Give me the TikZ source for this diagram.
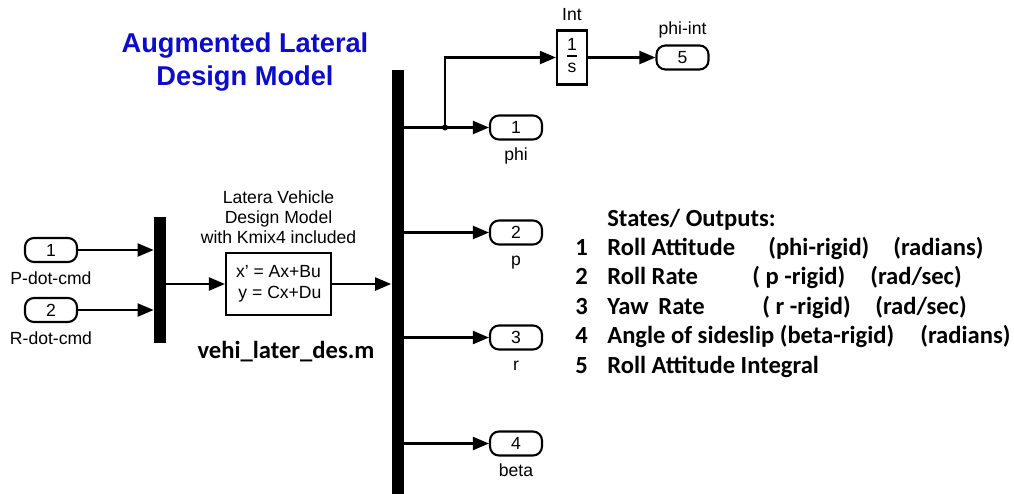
\documentclass[tikz,border=0pt]{standalone}
\usepackage{fontspec}
\setmainfont{Liberation Sans}
\newfontfamily\calfont{Carlito}
\usetikzlibrary{positioning,arrows.meta}
\definecolor{titleblue}{RGB}{12,12,205}
\tikzset{
  sigline/.style={-{Triangle[length=3.2mm, width=2.6mm]}, line width=1.2pt},
  portbox/.style={draw, line width=1.2pt, rounded corners=0.18cm, minimum width=1.04cm, minimum height=0.48cm, inner sep=0pt, font=\fontsize{10}{12}\selectfont},
  muxbar/.style={fill=black, draw=none, minimum width=0.24cm, inner sep=0pt},
  blockbox/.style={draw, line width=1.2pt, inner sep=0pt, align=center, font=\fontsize{10}{12}\selectfont},
  portlabel/.style={font=\fontsize{10}{12}\selectfont, inner sep=0pt, text height=7.3pt, text depth=2.1pt},
  listtext/.style={font=\calfont\bfseries\fontsize{14}{17}\selectfont, inner sep=0pt, anchor=base west}
}

\begin{document}
\begin{tikzpicture}
  \useasboundingbox (0,0) rectangle (20.28,-9.86);
  % title
  \node[font=\bfseries\fontsize{15.5}{18.7}\selectfont, text=titleblue, align=center, inner sep=0pt] (title) at (4.9,-1.24) {Augmented Lateral\\ Design Model};
  % inputs and mux
  \node[portbox] (in1) at (1.02,-5.00) {1};
  \node[portbox] (in2) at (1.02,-6.20) {2};
  \node[portlabel, below=0.16cm of in1] (in1lbl) {P-dot-cmd};
  \node[portlabel, below=0.16cm of in2] (in2lbl) {R-dot-cmd};
  \node[muxbar, minimum height=2.52cm] (mux) at (3.20,-5.60) {};
  \draw[sigline] (in1.east) -- (in1.east -| mux.west);
  \draw[sigline] (in2.east) -- (in2.east -| mux.west);
  % state space model
  \node[blockbox, minimum width=2.1cm, minimum height=1.24cm] (ss) at (5.57,-5.68) {x' = Ax+Bu\\ \,y = Cx+Du};
  \node[font=\fontsize{10}{11.3}\selectfont, align=center, inner sep=0pt, above=0.16cm of ss] (sslbl) {Latera Vehicle\\ Design Model\\ with Kmix4 included};
  \node[font=\calfont\bfseries\fontsize{14}{17}\selectfont, inner sep=0pt] (mfile) at (5.72,-7.04) {vehi\_later\_des.m};
  \draw[sigline] (mux.east |- ss.west) -- (ss.west);
  % demux and outputs
  \node[muxbar, minimum height=8.6cm] (demux) at (7.95,-5.70) {};
  \draw[sigline] (ss.east) -- (ss.east -| demux.west);
  \node[portbox] (out1) at (10.32,-2.55) {1};
  \node[portbox] (out2) at (10.32,-4.65) {2};
  \node[portbox] (out3) at (10.32,-6.75) {3};
  \node[portbox] (out4) at (10.32,-8.87) {4};
  \node[portlabel, below=0.13cm of out1] (out1lbl) {phi};
  \node[portlabel, below=0.13cm of out2] (out2lbl) {p};
  \node[portlabel, below=0.13cm of out3] (out3lbl) {r};
  \node[portlabel, below=0.13cm of out4] (out4lbl) {beta};
  \draw[sigline] (demux.east |- out1) -- (out1.west);
  \draw[sigline] (demux.east |- out2) -- (out2.west);
  \draw[sigline] (demux.east |- out3) -- (out3.west);
  \draw[sigline] (demux.east |- out4) -- (out4.west);
  % integrator branch
  \node[blockbox, minimum width=0.6cm, minimum height=1.08cm] (intg) at (11.44,-1.15) {\setlength{\arrayrulewidth}{0.8pt}\begin{tabular}{@{}c@{}}1\\[-1pt]\hline\rule{0pt}{9pt}s\end{tabular}};
  \node[portlabel, above=0.1cm of intg] (intlbl) {Int};
  \node[portbox] (out5) at (13.65,-1.15) {5};
  \node[portlabel, above=0.12cm of out5] (out5lbl) {phi-int};
  \coordinate (br) at (8.9,-2.55);
  \fill (br) circle (0.06cm);
  \draw[sigline] (br) |- (intg.west);
  \draw[sigline] (intg.east) -- (out5.west);
  % states / outputs list
  \node[listtext] (hdr) at (12.14,-4.52) {States/ Outputs:};
  \node[listtext] (n1) at (11.5,-5.10) {1};
  \node[listtext] (n2) at (11.5,-5.69) {2};
  \node[listtext] (n3) at (11.5,-6.28) {3};
  \node[listtext] (n4) at (11.5,-6.87) {4};
  \node[listtext] (n5) at (11.5,-7.46) {5};
  \node[listtext] (s1) at (12.14,-5.10) {Roll Attitude};
  \node[listtext] (s2) at (12.14,-5.69) {Roll Rate};
  \node[listtext] (s3) at (12.14,-6.28) {Yaw\, Rate};
  \node[listtext] (s4) at (12.14,-6.87) {Angle of sideslip (beta-rigid)};
  \node[listtext] (s5) at (12.14,-7.46) {Roll Attitude Integral};
  \node[listtext] (v1) at (15.36,-5.10) {(phi-rigid)};
  \node[listtext] (v2) at (15.04,-5.69) {( p -rigid)};
  \node[listtext] (v3) at (15.24,-6.28) {( r -rigid)};
  \node[listtext] (u1) at (17.86,-5.10) {(radians)};
  \node[listtext] (u2) at (17.40,-5.69) {(rad/sec)};
  \node[listtext] (u3) at (17.50,-6.28) {(rad/sec)};
  \node[listtext] (u4) at (18.40,-6.87) {(radians)};
\end{tikzpicture}
\end{document}
